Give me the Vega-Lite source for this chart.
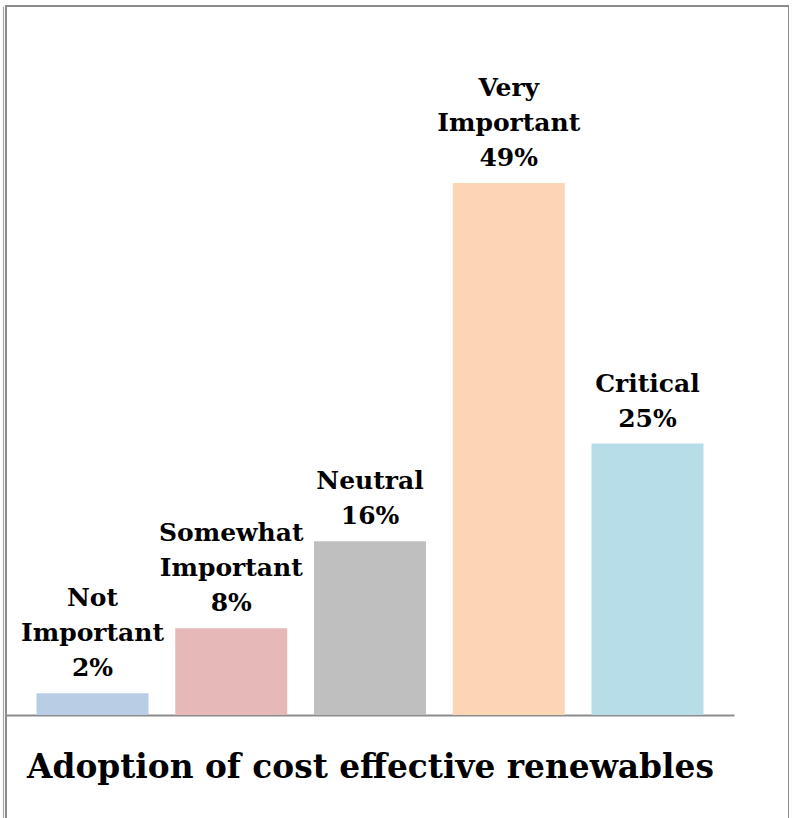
{
  "$schema": "https://vega.github.io/schema/vega-lite/v6.json",
  "width": 783,
  "height": 830,
  "autosize": {"type": "none"},
  "padding": {"left": 6, "top": 6, "right": 0, "bottom": 0},
  "background": "white",
  "config": {
    "view": {"stroke": "#8c8c8c", "strokeWidth": 2}
  },
  "title": {
    "text": "Adoption of cost effective renewables",
    "orient": "bottom",
    "anchor": "start",
    "frame": "group",
    "baseline": "alphabetic",
    "offset": -58,
    "dx": 21,
    "font": "DejaVu Serif",
    "fontWeight": "bold",
    "fontSize": 32.8,
    "color": "#000000"
  },
  "data": {
    "values": [
      {"category": "Not Important", "value": 2, "line1": "Not", "line2": "Important", "line3": "2%"},
      {"category": "Somewhat Important", "value": 8, "line1": "Somewhat", "line2": "Important", "line3": "8%"},
      {"category": "Neutral", "value": 16, "line1": "", "line2": "Neutral", "line3": "16%"},
      {"category": "Very Important", "value": 49, "line1": "Very", "line2": "Important", "line3": "49%"},
      {"category": "Critical", "value": 25, "line1": "", "line2": "Critical", "line3": "25%"}
    ]
  },
  "encoding": {
    "x": {
      "field": "category",
      "type": "nominal",
      "sort": null,
      "scale": {"range": [0, 728], "paddingInner": 0.1928, "paddingOuter": 0.22},
      "axis": {
        "orient": "bottom",
        "offset": -121,
        "labels": false,
        "ticks": false,
        "title": null,
        "grid": false,
        "domain": true,
        "domainColor": "#8c8c8c",
        "domainWidth": 2
      }
    },
    "y": {
      "field": "value",
      "type": "quantitative",
      "scale": {"domain": [-11.14, 65.3], "nice": false, "zero": false},
      "axis": {
        "orient": "left",
        "offset": 3,
        "labels": false,
        "ticks": false,
        "title": null,
        "grid": false,
        "domain": true,
        "domainColor": "#a6a6a6",
        "domainWidth": 1.2
      }
    }
  },
  "layer": [
    {
      "mark": {"type": "bar"},
      "encoding": {
        "y2": {"datum": 0},
        "color": {
          "field": "category",
          "type": "nominal",
          "sort": null,
          "scale": {
            "domain": ["Not Important", "Somewhat Important", "Neutral", "Very Important", "Critical"],
            "range": ["#b9cde5", "#e6b9b8", "#bfbfbf", "#fcd5b5", "#b7dee8"]
          },
          "legend": null
        }
      }
    },
    {
      "mark": {
        "type": "text",
        "baseline": "alphabetic",
        "align": "center",
        "dy": -87,
        "font": "DejaVu Serif",
        "fontWeight": "bold",
        "fontSize": 25,
        "color": "#000000"
      },
      "encoding": {"text": {"field": "line1"}}
    },
    {
      "mark": {
        "type": "text",
        "baseline": "alphabetic",
        "align": "center",
        "dy": -52,
        "font": "DejaVu Serif",
        "fontWeight": "bold",
        "fontSize": 25,
        "color": "#000000"
      },
      "encoding": {"text": {"field": "line2"}}
    },
    {
      "mark": {
        "type": "text",
        "baseline": "alphabetic",
        "align": "center",
        "dy": -17,
        "font": "DejaVu Serif",
        "fontWeight": "bold",
        "fontSize": 25,
        "color": "#000000"
      },
      "encoding": {"text": {"field": "line3"}}
    }
  ]
}
